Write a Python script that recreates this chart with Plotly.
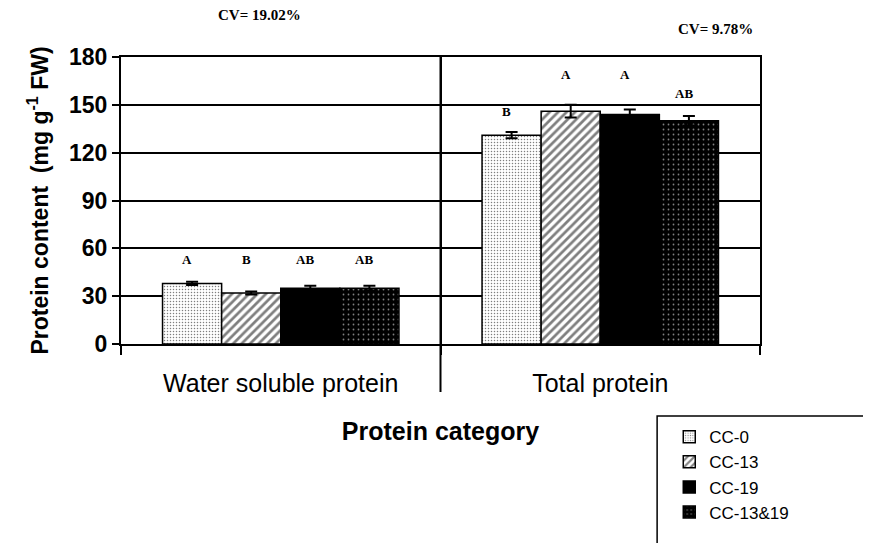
import plotly.graph_objects as go

categories = ["Water soluble protein", "Total protein"]
series_names = ["CC-0", "CC-13", "CC-19", "CC-13&19"]
values = {
    "CC-0": [38, 131],
    "CC-13": [32, 146],
    "CC-19": [35, 144],
    "CC-13&19": [35, 140],
}
errors = {
    "CC-0": [1.0, 2.0],
    "CC-13": [1.0, 4.0],
    "CC-19": [1.5, 3.0],
    "CC-13&19": [1.5, 3.0],
}
letters = {
    "CC-0": ["A", "B"],
    "CC-13": ["B", "A"],
    "CC-19": ["AB", "A"],
    "CC-13&19": ["AB", "AB"],
}
letter_y = {
    "CC-0": [53, 146],
    "CC-13": [53, 169],
    "CC-19": [53, 169],
    "CC-13&19": [53, 157],
}
cv_labels = ["CV= 19.02%", "CV= 9.78%"]
y_ticks = [0, 30, 60, 90, 120, 150, 180]

patterns = {
    "CC-0": dict(shape=".", fgcolor="black", bgcolor="white", size=3, solidity=0.2),
    "CC-13": dict(shape="/", fgcolor="black", bgcolor="white", size=6, solidity=0.45),
    "CC-19": dict(shape="", fgcolor="black", bgcolor="black"),
    "CC-13&19": dict(shape=".", fgcolor="white", bgcolor="black", size=5, solidity=0.1),
}
base_colors = {"CC-0": "white", "CC-13": "white", "CC-19": "black", "CC-13&19": "black"}

bargap = 0.26
fig = go.Figure()
for name in series_names:
    fig.add_trace(go.Bar(
        name=name,
        x=categories,
        y=values[name],
        marker=dict(color=base_colors[name], line=dict(color="black", width=1.5),
                    pattern=patterns[name]),
        error_y=dict(type="data", array=errors[name], color="black", thickness=2, width=6),
    ))

annotations = []
n = len(series_names)
w = (1 - bargap) / n
for i, name in enumerate(series_names):
    for c in range(len(categories)):
        annotations.append(dict(
            x=c + (i - (n - 1) / 2) * w, y=letter_y[name][c], xref="x", yref="y",
            text=letters[name][c], showarrow=False, xshift=-5,
            font=dict(family="Liberation Serif", size=13, color="black", weight="bold"),
        ))

annotations.append(dict(x=0.2175, y=1.146, xref="paper", yref="paper", text=cv_labels[0],
                        xanchor="center", yanchor="middle",
                        showarrow=False, font=dict(family="Liberation Serif", size=15, color="black", weight="bold")))
annotations.append(dict(x=0.931, y=1.098, xref="paper", yref="paper", text=cv_labels[1],
                        xanchor="center", yanchor="middle",
                        showarrow=False, font=dict(family="Liberation Serif", size=15, color="black", weight="bold")))

shapes = [
    dict(type="line", xref="x", yref="paper", x0=0.5, x1=0.5, y0=-0.167, y1=1,
         line=dict(color="black", width=2)),
    dict(type="rect", xref="paper", yref="paper", x0=0.839, x1=1.4, y0=-0.251, y1=-1.0,
         line=dict(color="black", width=1.5), fillcolor="rgba(0,0,0,0)"),
]

fig.update_layout(
    width=871, height=543,
    margin=dict(l=113, r=119, t=49, b=207, autoexpand=False),
    paper_bgcolor="white", plot_bgcolor="white",
    barmode="group", bargap=bargap, bargroupgap=0,
    font=dict(family="Liberation Sans, Arial", color="black"),
    showlegend=True,
    legend=dict(x=0.858, y=-0.262, xanchor="left", yanchor="top",
                bgcolor="rgba(0,0,0,0)", borderwidth=0,
                font=dict(size=17, color="black"), tracegroupgap=0),
    annotations=annotations,
    shapes=shapes,
    xaxis=dict(
        tickson="boundaries", ticks="outside", ticklen=9, tickwidth=2, tickcolor="black",
        showline=True, linecolor="black", linewidth=2, mirror=True,
        showgrid=True, gridcolor="black", gridwidth=2,
        tickfont=dict(size=25, color="black"), ticklabelstandoff=16,
        title=dict(text="<b>Protein category</b>", font=dict(size=25, color="black"), standoff=26),
    ),
    yaxis=dict(
        range=[0, 180], tickvals=y_ticks, ticks="outside", ticklen=7, tickwidth=2, tickcolor="black",
        showline=True, linecolor="black", linewidth=2, mirror=True,
        showgrid=True, gridcolor="black", gridwidth=1.5, zeroline=False,
        tickfont=dict(size=23, color="black", weight="bold"),
        title=dict(text="<b>Protein content  (mg g<sup>-1</sup> FW)</b>", font=dict(size=23, color="black"), standoff=14),
    ),
)

fig.write_html("out.html")
